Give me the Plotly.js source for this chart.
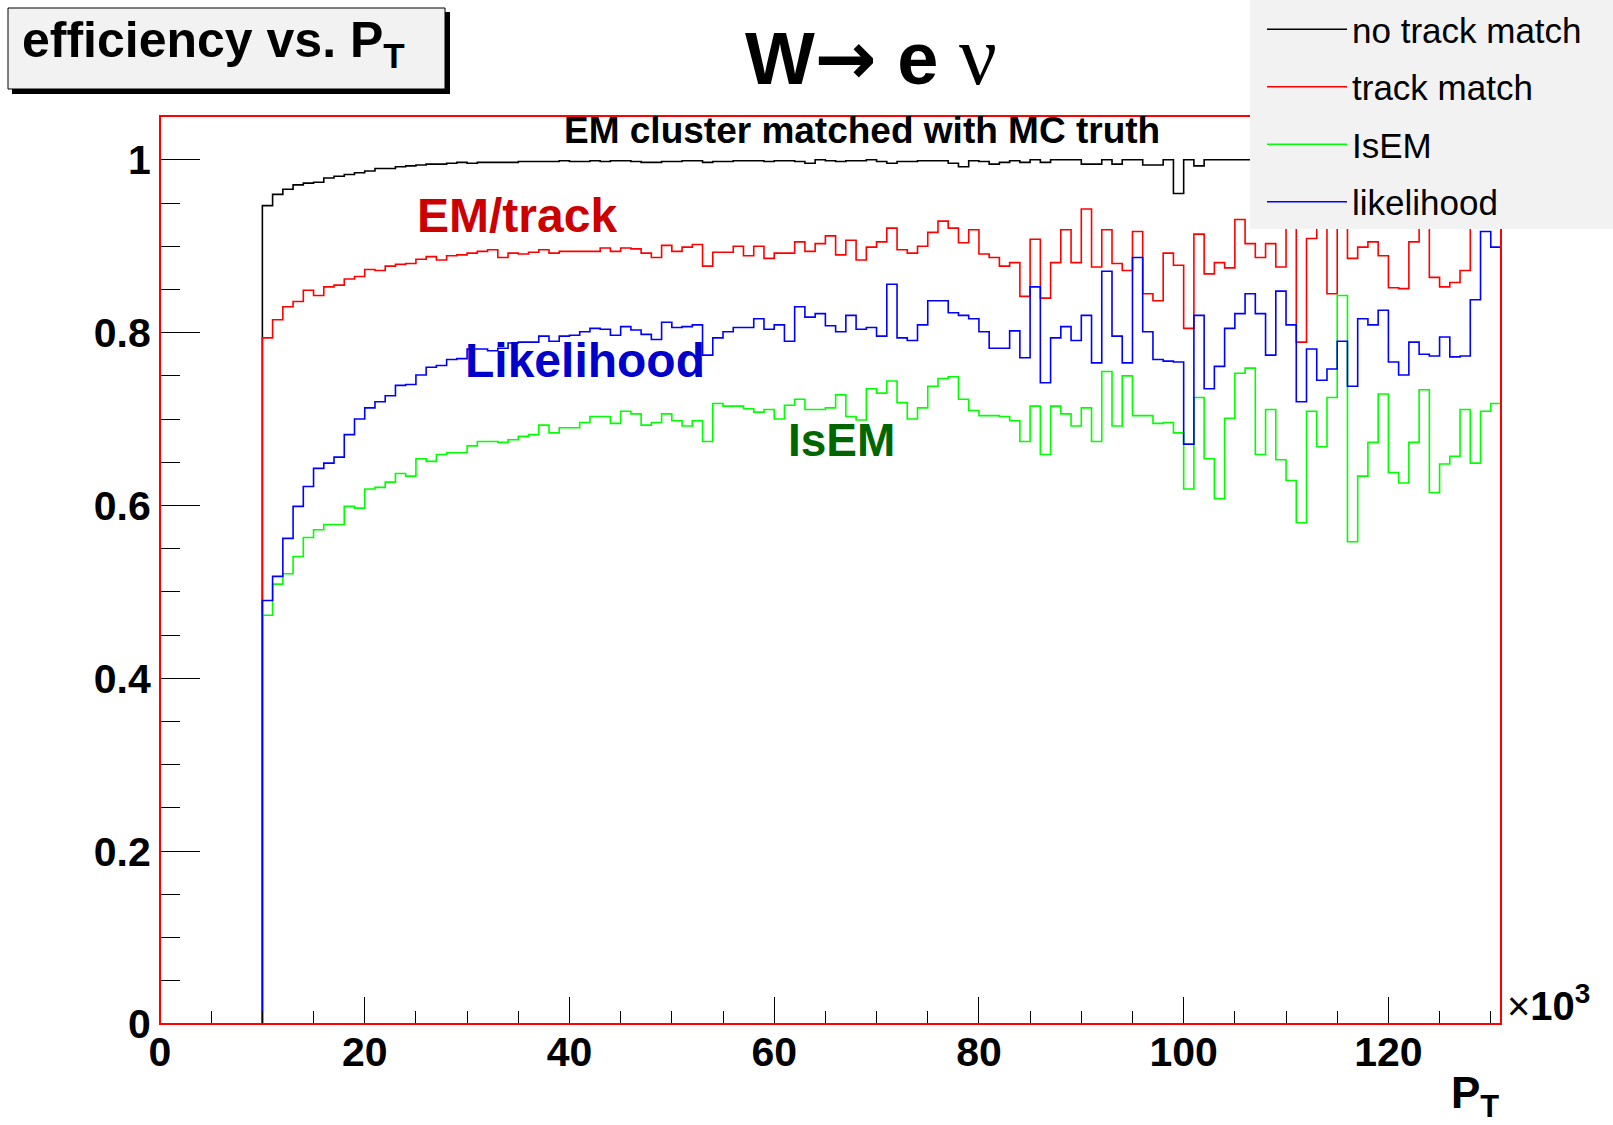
<!DOCTYPE html>
<html>
<head>
<meta charset="utf-8">
<script src="https://cdn.plot.ly/plotly-3.0.1.min.js"></script>
<style>
html,body{margin:0;padding:0;background:#ffffff;}
#chart{width:1613px;height:1125px;}
</style>
</head>
<body>
<div id="chart"></div>
<script>
// Histogram binning: P_T in units of 10^3 (MeV), 1 unit wide bins starting at 0
const binLow = 0;
const binWidth = 1;

// Efficiency per bin (bins 0..130)
const noTrackMatch = [
  0,0,0,0,0,0,0,0,0,0,
  0.947,0.960,0.966,0.971,0.973,0.974,0.979,0.981,0.983,0.985,
  0.987,0.990,0.990,0.992,0.993,0.994,0.995,0.995,0.996,0.997,
  0.996,0.997,0.997,0.997,0.997,0.998,0.998,0.998,0.998,0.999,
  0.998,0.998,0.999,0.998,0.999,0.999,0.998,0.997,0.997,0.998,
  0.998,0.999,0.999,0.997,0.998,0.998,0.999,0.999,0.999,0.998,
  0.999,0.999,0.998,0.996,1.000,0.999,0.998,0.999,0.999,1.000,
  0.998,0.996,0.998,0.998,0.999,0.999,0.999,0.996,0.992,0.999,
  0.998,0.995,0.997,0.999,0.997,1.000,0.997,1.000,1.000,1.000,
  0.995,0.995,1.000,0.995,1.000,1.000,0.994,0.994,1.000,0.961,
  1.000,0.993,1.000,1.000,1.000,1.000,1.000,1.000,1.000,1.000,
  1.000,1.000,1.000,1.000,1.000,1.000,1.000,1.000,1.000,1.000,
  1.000,1.000,1.000,1.000,1.000,1.000,1.000,1.000,1.000,1.000,
  1.000
];
const trackMatch = [
  0,0,0,0,0,0,0,0,0,0,
  0.794,0.815,0.830,0.836,0.849,0.843,0.853,0.855,0.862,0.865,
  0.873,0.872,0.877,0.879,0.880,0.885,0.888,0.884,0.889,0.890,
  0.892,0.894,0.896,0.887,0.892,0.891,0.893,0.896,0.892,0.894,
  0.894,0.894,0.894,0.898,0.894,0.898,0.897,0.892,0.887,0.901,
  0.894,0.899,0.902,0.877,0.893,0.893,0.900,0.889,0.900,0.886,
  0.892,0.892,0.905,0.894,0.903,0.912,0.890,0.907,0.884,0.899,
  0.905,0.921,0.896,0.892,0.900,0.916,0.929,0.921,0.904,0.919,
  0.891,0.887,0.877,0.881,0.842,0.908,0.840,0.881,0.919,0.881,
  0.943,0.876,0.919,0.880,0.872,0.917,0.845,0.837,0.892,0.878,
  0.805,0.914,0.868,0.881,0.875,0.931,0.903,0.887,0.903,0.876,
  0.950,0.789,0.909,0.950,0.845,0.960,0.886,0.899,0.905,0.889,
  0.852,0.851,0.905,0.950,0.864,0.853,0.858,0.872,0.940,0.960,
  0.930
];
const isEM = [
  0,0,0,0,0,0,0,0,0,0,
  0.473,0.509,0.521,0.541,0.563,0.572,0.578,0.578,0.599,0.597,
  0.619,0.621,0.627,0.637,0.634,0.654,0.651,0.659,0.661,0.661,
  0.669,0.674,0.674,0.673,0.676,0.680,0.682,0.693,0.684,0.690,
  0.690,0.696,0.703,0.703,0.695,0.709,0.706,0.693,0.696,0.706,
  0.698,0.692,0.698,0.674,0.718,0.715,0.715,0.712,0.708,0.711,
  0.700,0.716,0.723,0.711,0.711,0.713,0.728,0.703,0.699,0.735,
  0.730,0.744,0.719,0.700,0.713,0.738,0.747,0.749,0.723,0.710,
  0.704,0.704,0.703,0.698,0.674,0.715,0.659,0.715,0.706,0.692,
  0.713,0.674,0.755,0.692,0.750,0.704,0.704,0.695,0.696,0.684,
  0.619,0.725,0.654,0.608,0.701,0.753,0.759,0.659,0.711,0.653,
  0.629,0.580,0.709,0.668,0.725,0.843,0.558,0.634,0.673,0.729,
  0.638,0.626,0.673,0.734,0.615,0.648,0.657,0.711,0.649,0.709,
  0.718
];
const likelihood = [
  0,0,0,0,0,0,0,0,0,0,
  0.490,0.518,0.562,0.599,0.622,0.643,0.649,0.656,0.682,0.700,
  0.713,0.720,0.727,0.739,0.740,0.751,0.760,0.762,0.769,0.770,
  0.781,0.781,0.779,0.782,0.788,0.789,0.789,0.796,0.790,0.796,
  0.797,0.801,0.805,0.804,0.797,0.807,0.803,0.798,0.792,0.812,
  0.806,0.807,0.809,0.774,0.794,0.801,0.806,0.806,0.816,0.804,
  0.809,0.790,0.830,0.818,0.822,0.808,0.801,0.820,0.804,0.806,
  0.796,0.856,0.794,0.791,0.809,0.837,0.837,0.823,0.820,0.816,
  0.801,0.782,0.782,0.802,0.771,0.853,0.742,0.794,0.807,0.791,
  0.820,0.765,0.871,0.796,0.765,0.887,0.801,0.769,0.767,0.766,
  0.671,0.820,0.735,0.761,0.805,0.822,0.845,0.822,0.774,0.848,
  0.809,0.720,0.781,0.745,0.758,0.790,0.738,0.816,0.809,0.826,
  0.766,0.751,0.789,0.775,0.773,0.795,0.772,0.773,0.838,0.917,
  0.899
];

const seriesNames = ['no track match', 'track match', 'IsEM', 'likelihood'];
const seriesColors = ['#000000', '#ff0000', '#00ff00', '#0000ff'];
const seriesValues = [noTrackMatch, trackMatch, isEM, likelihood];

const yTickValues = [0, 0.2, 0.4, 0.6, 0.8, 1];
const xTickValues = [0, 20, 40, 60, 80, 100, 120];

// histogram outline: bin edges, closing the last bin down to zero
function edgesFor(vals) {
  const e = [];
  for (let i = 0; i <= vals.length; i++) e.push(binLow + i * binWidth);
  return e;
}
const traces = seriesValues.map((vals, k) => ({
  type: 'scatter',
  mode: 'lines',
  name: seriesNames[k],
  legendgroup: 'g' + k,
  x: edgesFor(vals),
  y: vals.concat([0]),
  line: {shape: 'hv', color: seriesColors[k], width: 1.6},
  hoverinfo: 'skip'
}));

// pixel -> paper helpers (plot frame)
const W = 1613, H = 1125;
const L = 160, R = 1501, T = 116, B = 1024;
const fx = X => (X - L) / (R - L);
const fy = Y => (B - Y) / (B - T);

const FONT = 'Liberation Sans, Arial, Helvetica, sans-serif';

const layout = {
  width: W, height: H,
  margin: {l: L, r: W - R, t: T, b: H - B, pad: 0, autoexpand: false},
  paper_bgcolor: '#ffffff',
  plot_bgcolor: '#ffffff',
  font: {family: FONT, color: '#000000'},
  title: {
    text: 'W<span style="font-family:DejaVu Sans">→</span> e <span style="font-family:Liberation Serif;font-weight:normal;font-size:84px">ν</span>',
    xref: 'container', yref: 'container',
    x: 871 / W, y: 1 - 58 / H, xanchor: 'center', yanchor: 'middle',
    font: {family: FONT, size: 74, weight: 'bold', color: '#000000'}
  },
  showlegend: true,
  legend: {
    xref: 'container', yref: 'container',
    x: 1262 / W, y: 1, xanchor: 'left', yanchor: 'top',
    bgcolor: 'rgba(0,0,0,0)', borderwidth: 0,
    font: {family: FONT, size: 35, color: '#000000'},
    itemwidth: 80, tracegroupgap: 9, traceorder: 'grouped'
  },
  xaxis: {
    range: [0, 131], autorange: false,
    tickvals: xTickValues, ticktext: xTickValues.map(String),
    ticks: 'inside', ticklen: 27, tickwidth: 1, tickcolor: '#000000',
    minor: {dtick: 5, tick0: 0, ticks: 'inside', ticklen: 13, tickwidth: 1, tickcolor: '#000000', showgrid: false},
    showgrid: false, zeroline: false,
    showline: true, linecolor: '#000000', linewidth: 1, mirror: true,
    tickfont: {family: FONT, size: 41, weight: 'bold', color: '#000000'},
    ticklabelstandoff: -8
  },
  yaxis: {
    range: [0, 1.0507], autorange: false,
    tickvals: yTickValues, ticktext: yTickValues.map(String),
    ticks: 'inside', ticklen: 40, tickwidth: 1, tickcolor: '#000000',
    minor: {dtick: 0.05, tick0: 0, ticks: 'inside', ticklen: 20, tickwidth: 1, tickcolor: '#000000', showgrid: false},
    showgrid: false, zeroline: false,
    showline: true, linecolor: '#000000', linewidth: 1, mirror: true,
    tickfont: {family: FONT, size: 41, weight: 'bold', color: '#000000'},
    ticklabelstandoff: 0
  },
  shapes: [
    // red frame
    {type: 'rect', xref: 'paper', yref: 'paper', x0: 0, x1: 1, y0: 0, y1: 1,
     line: {color: '#ff0000', width: 2}, fillcolor: 'rgba(0,0,0,0)', layer: 'above'},
    // legend box
    {type: 'rect', xref: 'paper', yref: 'paper', x0: fx(1250), x1: fx(1613), y0: fy(229), y1: fy(0),
     line: {width: 0}, fillcolor: '#f2f2f2', layer: 'above'},
    // title box shadow
    {type: 'rect', xref: 'paper', yref: 'paper', x0: fx(12), x1: fx(450), y0: fy(94), y1: fy(12),
     line: {width: 0}, fillcolor: '#000000', layer: 'above'},
    // title box
    {type: 'rect', xref: 'paper', yref: 'paper', x0: fx(8), x1: fx(445), y0: fy(89), y1: fy(8),
     line: {color: '#000000', width: 1}, fillcolor: '#f2f2f2', layer: 'above'}
  ],
  annotations: [
    {text: 'efficiency vs. P<sub>T</sub>', xref: 'paper', yref: 'paper', x: fx(20), y: fy(43),
     xanchor: 'left', yanchor: 'middle', showarrow: false,
     font: {family: FONT, size: 50, weight: 'bold', color: '#000000'}},
    {text: 'EM cluster matched with MC truth', xref: 'paper', yref: 'paper', x: fx(862), y: fy(130),
     xanchor: 'center', yanchor: 'middle', showarrow: false,
     font: {family: FONT, size: 37, weight: 'bold', color: '#000000'}},
    {text: 'EM/track', xref: 'paper', yref: 'paper', x: fx(517), y: fy(216),
     xanchor: 'center', yanchor: 'middle', showarrow: false,
     font: {family: FONT, size: 48, weight: 'bold', color: '#cc0000'}},
    {text: 'Likelihood', xref: 'paper', yref: 'paper', x: fx(585), y: fy(360),
     xanchor: 'center', yanchor: 'middle', showarrow: false,
     font: {family: FONT, size: 48, weight: 'bold', color: '#0000cc'}},
    {text: 'IsEM', xref: 'paper', yref: 'paper', x: fx(841), y: fy(440),
     xanchor: 'center', yanchor: 'middle', showarrow: false,
     font: {family: FONT, size: 46, weight: 'bold', color: '#006600'}},
    {text: 'P<sub>T</sub>', xref: 'paper', yref: 'paper', x: 1, y: fy(1066),
     xanchor: 'right', yanchor: 'top', showarrow: false,
     font: {family: FONT, size: 44, weight: 'bold', color: '#000000'}},
    {text: '×<b>10<sup>3</sup></b>', xref: 'paper', yref: 'paper', x: fx(1505), y: fy(1030),
     xanchor: 'left', yanchor: 'bottom', showarrow: false,
     font: {family: FONT, size: 40, color: '#000000'}}
  ]
};

Plotly.newPlot('chart', traces, layout, {displayModeBar: false, staticPlot: true});
</script>
</body>
</html>
